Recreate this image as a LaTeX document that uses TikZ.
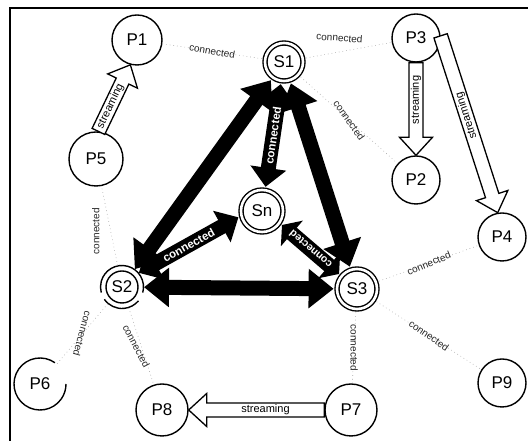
\documentclass[tikz,border=0pt]{standalone}
\usepackage{fontspec}
\setmainfont{Liberation Sans}
\usetikzlibrary{arrows.meta,calc}

\tikzset{
  pnode/.style={circle, draw, line width=1.4pt, inner sep=0pt,
                font=\fontsize{17}{17}\selectfont},
  snode/.style={circle, draw, double, double distance=2.6pt, line width=1.4pt,
                inner sep=0pt, outer sep=3.4pt, font=\fontsize{17}{17}\selectfont},
  ring/.style={line width=1.4pt},
  outerlink/.style={line width=15pt,
                arrows={Triangle[width=38pt,length=25pt]-Triangle[width=38pt,length=25pt]}},
  innerlink/.style={line width=15pt,
                arrows={Triangle[width=35pt,length=19pt]-Triangle[width=35pt,length=19pt]}},
  shortlink/.style={line width=15pt,
                arrows={Triangle[width=33pt,length=13pt]-Triangle[width=33pt,length=13pt]}},
  wtext/.style={text=white, font=\bfseries\fontsize{11.5}{11.5}\selectfont, inner sep=0pt,
                sloped, allow upside down},
  dotlink/.style={black!35, line width=0.6pt, dash pattern=on 0.7pt off 3pt},
  conn/.style={font=\fontsize{10}{10}\selectfont, inner sep=0pt, text=black!85},
  streambody/.style={draw, fill=white, line width=1.3pt, line join=miter},
  streamtext/.style={font=\fontsize{11}{11}\selectfont, inner sep=0pt, sloped, allow upside down}
}

% hollow "streaming" arrow from #1 to #2; the label runs from #3 to #4
\newcommand\streamarrow[4]{%
  \path (#1) -- (#2) coordinate[pos=0] (sa) coordinate[pos=1] (sb);
  \coordinate (sh) at ($(sb)!18pt!(sa)$);
  \filldraw[streambody] ($(sa)!7pt!90:(sb)$) -- ($(sh)!7pt!-90:(sa)$)
     -- ($(sh)!16.5pt!-90:(sa)$) -- (sb) -- ($(sh)!16.5pt!90:(sa)$)
     -- ($(sh)!7pt!90:(sa)$) -- ($(sa)!7pt!-90:(sb)$) -- cycle;
  \path (#3) -- (#4) node[midway, streamtext] {streaming};
}

\begin{document}
\begin{tikzpicture}[x=1pt, y=1pt]
\useasboundingbox (0,0) rectangle (528,441);

% frame
\draw[line width=1.3pt] (10,0) -- (10,433) -- (528,433);

% servers
\node[snode, minimum size=38pt] (S1) at (284,379) {S1};
\node[snode, minimum size=42pt] (Sn) at (262,230) {Sn};
\node[snode, minimum size=40pt] (S3) at (357,152) {S3};
\node[circle, draw, line width=1.4pt, inner sep=0pt, minimum size=32pt, outer sep=6pt,
      font=\fontsize{17}{17}\selectfont] (S2) at (122,154) {S2};
\draw[ring] ([shift={(-15:21.5pt)}]S2.center) arc[start angle=-15, end angle=195, radius=21.5pt];
\draw[ring] ([shift={(215:21.5pt)}]S2.center) arc[start angle=215, end angle=320, radius=21.5pt];

% peers
\node[pnode, minimum size=50pt] (P1) at (137,401) {P1};
\node[pnode, minimum size=48pt] (P3) at (416,403) {P3};
\node[pnode, minimum size=54pt] (P5) at (96,282) {P5};
\node[pnode, minimum size=48pt] (P2) at (416,261) {P2};
\node[pnode, minimum size=48pt] (P4) at (502,204) {P4};
\node[circle, inner sep=0pt, minimum size=52pt, font=\fontsize{17}{17}\selectfont] (P6) at (40,57) {P6};
\draw[ring] ([shift={(55:26pt)}]P6.center) arc[start angle=55, end angle=360, radius=26pt];
\node[pnode, minimum size=52pt] (P8) at (162,31) {P8};
\node[pnode, minimum size=52pt] (P7) at (351,31) {P7};
\node[pnode, minimum size=48pt] (P9) at (502,58) {P9};

% loose peer links
\draw[dotlink] (S1) -- node[conn, midway, rotate=-10] {connected} (P1);
\draw[dotlink] (S1) -- node[conn, pos=0.39, yshift=14pt, rotate=-4] {connected} (P3);
\draw[dotlink] (S1) -- node[conn, midway, rotate=-55] {connected} (P2);
\draw[dotlink] (S2) -- node[conn, pos=0.43, xshift=-15pt, rotate=90] {connected} (P5);
\draw[dotlink] (S2) -- node[conn, midway, rotate=-105] {connected} (P6);
\draw[dotlink] (S2) -- node[conn, midway, xshift=-5pt, rotate=-62] {connected} (P8);
\draw[dotlink] (S3) -- node[conn, midway, rotate=22] {connected} (P4);
\draw[dotlink] (S3) -- node[conn, midway, rotate=-35] {connected} (P9);
\draw[dotlink] (S3) -- node[conn, midway, rotate=-90] {connected} (P7);

% server backbone
\draw[outerlink] (S1) -- (S2);
\draw[outerlink] (S1) -- (S3);
\draw[outerlink] (S2) -- (S3);
\draw[innerlink] (Sn) -- node[wtext, midway] {connected} (S1);
\draw[innerlink] (S2.40) -- node[wtext, midway] {connected} (Sn.195);
\draw[shortlink] (S3.140) -- node[wtext, midway, font=\bfseries\fontsize{10.5}{10.5}\selectfont] {connected} (Sn.-35);

% streaming between peers
\streamarrow{P5.85}{P1.-105}{sa}{sh}
\streamarrow{P3}{P2}{sh}{sa}
\streamarrow{P3.5}{P4.100}{sh}{sa}
\streamarrow{P7}{P8}{sh}{sa}
\end{tikzpicture}
\end{document}
